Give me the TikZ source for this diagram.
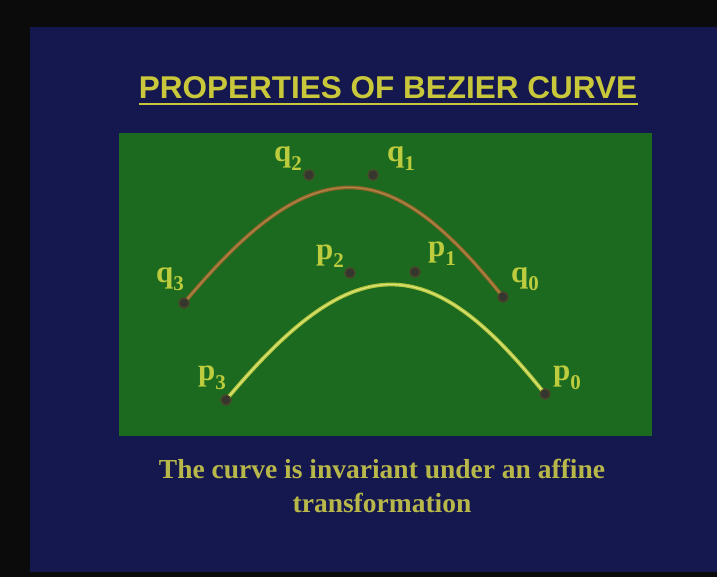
\documentclass[tikz,border=0pt]{standalone}
\usepackage{fontspec}
\setmainfont{Liberation Serif}
\newfontfamily\titlefont{Liberation Sans}
\begin{document}
\begin{tikzpicture}[x=1pt,y=-1pt,
  dotnode/.style={circle,inner sep=0pt,minimum size=11pt,fill=dotfill,draw=dotrim,line width=0.8pt},
  lbl/.style={anchor=base west,inner sep=0pt,text=lblcol,font=\bfseries\fontsize{31}{31}\selectfont},
  browncurve/.style={line width=3.8pt,draw=brownA,line cap=round},
  browncore/.style={line width=1.2pt,draw=brownB,line cap=round},
  yelcurve/.style={line width=3.8pt,draw=yelA,line cap=round},
  yelcore/.style={line width=1.2pt,draw=yelB,line cap=round}]
\definecolor{bgblack}{HTML}{0B0B0B}
\definecolor{bgblue}{HTML}{15174F}
\definecolor{bggreen}{HTML}{1C6A1F}
\definecolor{titlecol}{HTML}{C8C83A}
\definecolor{textcol}{HTML}{B8B84A}
\definecolor{lblcol}{HTML}{BCCC3E}
\definecolor{dotfill}{HTML}{35372E}
\definecolor{dotrim}{HTML}{4A4A2A}
\definecolor{brownA}{HTML}{8E6428}
\definecolor{brownB}{HTML}{B0884A}
\definecolor{yelA}{HTML}{B4C43E}
\definecolor{yelB}{HTML}{DCE678}
\useasboundingbox (0,0) rectangle (717,577);
\fill[bgblack] (0,0) rectangle (717,577);
\fill[bgblue] (30,27) rectangle (717,572);
\fill[bggreen] (119,133) rectangle (652,436);
% title
\node[anchor=base,inner sep=0pt,text=titlecol,font=\titlefont\bfseries\fontsize{31.5}{31.5}\selectfont] (title) at (388,99) {PROPERTIES OF BEZIER CURVE};
\fill[titlecol] (139,103) rectangle (638,105.5);
% control points
\node[dotnode] (q3) at (184,303) {};
\node[dotnode] (q2) at (309,175) {};
\node[dotnode] (q1) at (373,175) {};
\node[dotnode] (q0) at (503,297) {};
\node[dotnode] (p3) at (226,400) {};
\node[dotnode] (p2) at (350,273) {};
\node[dotnode] (p1) at (415,272) {};
\node[dotnode] (p0) at (545,394) {};
\coordinate (qc1) at (312,150);
\coordinate (qc2) at (386,150);
\coordinate (pc1) at (354,247);
\coordinate (pc2) at (428,247);
% curves
\draw[browncurve] (q3.center) .. controls (qc1) and (qc2) .. (q0.center);
\draw[browncore] (q3.center) .. controls (qc1) and (qc2) .. (q0.center);
\draw[yelcurve] (p3.center) .. controls (pc1) and (pc2) .. (p0.center);
\draw[yelcore] (p3.center) .. controls (pc1) and (pc2) .. (p0.center);
% redraw dots on top
\foreach \n in {q0,q1,q2,q3,p0,p1,p2,p3}{\filldraw[fill=dotfill,draw=dotrim,line width=0.8pt] (\n) circle (5pt);}
% labels
\newcommand{\sub}[1]{\raisebox{-9pt}{\fontsize{21}{21}\selectfont #1}}
\node[lbl] (lq2) at (274,162) {q\sub{2}};
\node[lbl] (lq1) at (387,162) {q\sub{1}};
\node[lbl] (lq3) at (156,282) {q\sub{3}};
\node[lbl] (lq0) at (511,282) {q\sub{0}};
\node[lbl] (lp2) at (316,259) {p\sub{2}};
\node[lbl] (lp1) at (428,257) {p\sub{1}};
\node[lbl] (lp3) at (198,380) {p\sub{3}};
\node[lbl] (lp0) at (553,380) {p\sub{0}};
% caption
\node[anchor=base,inner sep=0pt,text=textcol,font=\bfseries\fontsize{27.5}{27.5}\selectfont] (cap1) at (382,478) {The curve is invariant under an affine};
\node[anchor=base,inner sep=0pt,text=textcol,font=\bfseries\fontsize{27.5}{27.5}\selectfont] (cap2) at (382,512) {transformation};
\end{tikzpicture}
\end{document}
